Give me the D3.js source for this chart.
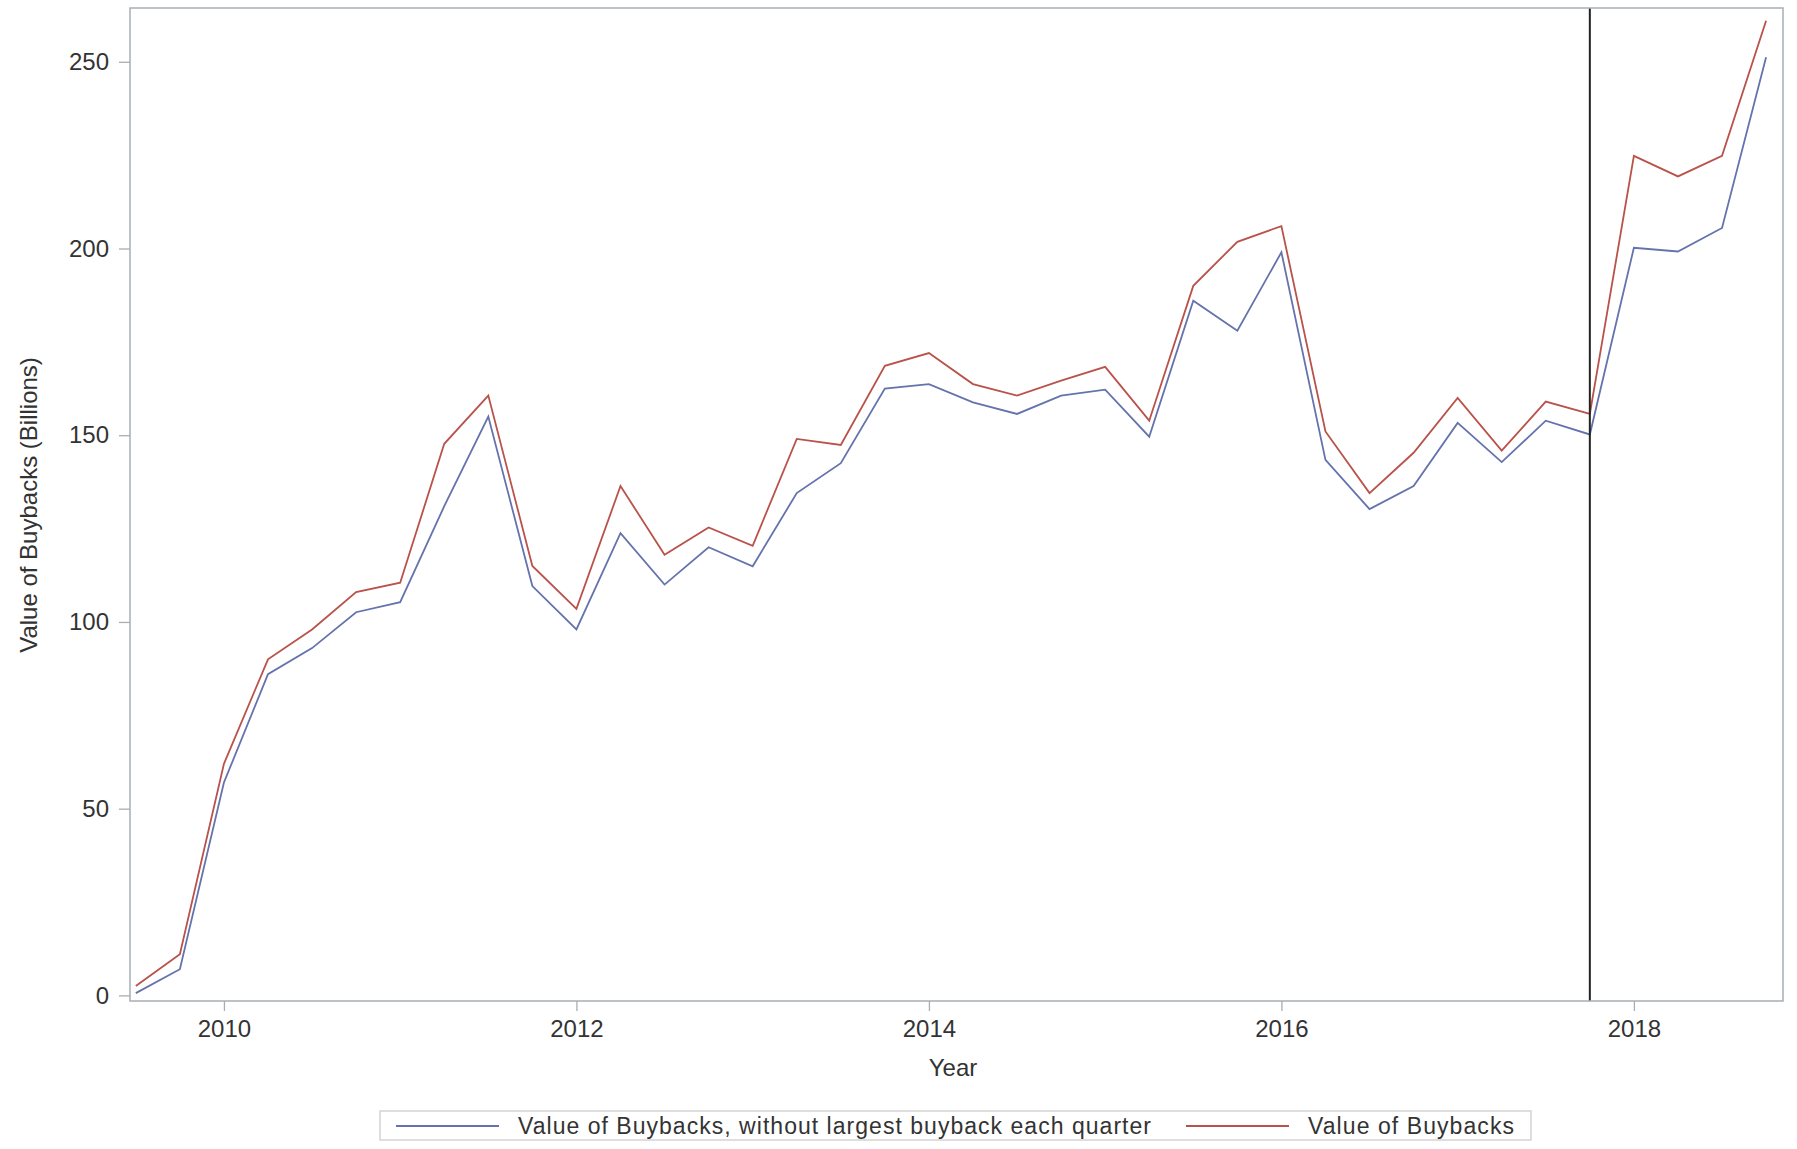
<!DOCTYPE html>
<html>
<head>
<meta charset="utf-8">
<script src="https://cdn.jsdelivr.net/npm/d3@7"></script>
<style>
  body { margin: 0; background: #fff; }
  text { font-family: "Liberation Sans", Arial, sans-serif; fill: #333; }
</style>
</head>
<body>
<div id="chart"></div>
<script>
// quarterly observations, as decimal years
const quarters = [
  2009.5, 2009.75, 2010, 2010.25, 2010.5, 2010.75, 2011, 2011.25, 2011.5, 2011.75,
  2012, 2012.25, 2012.5, 2012.75, 2013, 2013.25, 2013.5, 2013.75, 2014, 2014.25,
  2014.5, 2014.75, 2015, 2015.25, 2015.5, 2015.75, 2016, 2016.25, 2016.5, 2016.75,
  2017, 2017.25, 2017.5, 2017.75, 2018, 2018.25, 2018.5, 2018.75
];

const withoutLargest = [
  0.6, 7, 57, 86, 93, 102.6, 105.3, 131, 155, 109.6,
  98, 123.8, 110, 120, 114.9, 134.5, 142.5, 162.5, 163.7, 158.8,
  155.7, 160.6, 162.2, 149.6, 186, 178, 199, 143.4, 130.2, 136.4,
  153.3, 142.8, 153.9, 150.2, 200.2, 199.2, 205.5, 251.2
];

const allBuybacks = [
  2.5, 11, 62, 90, 98, 108, 110.5, 147.7, 160.6, 115,
  103.5, 136.4, 118, 125.3, 120.4, 149, 147.4, 168.6, 172, 163.7,
  160.6, 164.6, 168.3, 153.9, 190, 201.8, 206, 151, 134.5, 145.3,
  160, 145.9, 159, 155.7, 224.8, 219.3, 224.8, 261
];

const yearTicks = [2010, 2012, 2014, 2016, 2018];
const valueTicks = [0, 50, 100, 150, 200, 250];
const markerYear = 2017.75;

const seriesNames = [
  "Value of Buybacks, without largest buyback each quarter",
  "Value of Buybacks"
];
const seriesColors = ["#6573ad", "#b9524a"];

const width = 1797, height = 1149;
const margin = { top: 8, right: 14, bottom: 148, left: 130 };
const innerW = width - margin.left - margin.right;
const innerH = height - margin.top - margin.bottom;

const svg = d3.select("#chart").append("svg")
  .attr("width", width)
  .attr("height", height);

const x = d3.scaleLinear().domain([2009.467, 2018.846]).range([0, innerW]);
const y = d3.scaleLinear().domain([-1.5, 264.4]).range([innerH, 0]);

const g = svg.append("g").attr("transform", `translate(${margin.left},${margin.top})`);

// axes
const xAxis = g.append("g")
  .attr("transform", `translate(0,${innerH})`)
  .call(d3.axisBottom(x).tickValues(yearTicks).tickFormat(d3.format("d")).tickSize(10).tickPadding(9));
const yAxis = g.append("g")
  .call(d3.axisLeft(y).tickValues(valueTicks).tickSize(11).tickPadding(10));

[xAxis, yAxis].forEach(a => {
  a.select(".domain").remove();
  a.selectAll(".tick line").attr("stroke", "#a7aeb4").attr("stroke-width", 1.3);
  a.selectAll(".tick text").attr("font-size", 24).attr("fill", "#333")
    .attr("font-family", "Liberation Sans, Arial, sans-serif");
});

// series
const series = [withoutLargest, allBuybacks];
const line = d3.line()
  .x((d, i) => x(quarters[i]))
  .y(d => y(d));

series.forEach((vals, k) => {
  g.append("path")
    .datum(vals)
    .attr("fill", "none")
    .attr("stroke", seriesColors[k])
    .attr("stroke-width", 1.8)
    .attr("stroke-linejoin", "miter")
    .attr("d", line);
});

// reference line
g.append("line")
  .attr("x1", x(markerYear)).attr("x2", x(markerYear))
  .attr("y1", 0).attr("y2", innerH)
  .attr("stroke", "#222")
  .attr("stroke-width", 2);

// frame
g.append("rect")
  .attr("width", innerW).attr("height", innerH)
  .attr("fill", "none")
  .attr("stroke", "#a7aeb4")
  .attr("stroke-width", 1.5);

// axis titles
svg.append("text")
  .attr("x", 953)
  .attr("y", 1076)
  .attr("text-anchor", "middle")
  .attr("font-size", 24)
  .text("Year");

svg.append("text")
  .attr("transform", `translate(37,505) rotate(-90)`)
  .attr("text-anchor", "middle")
  .attr("font-size", 24)
  .text("Value of Buybacks (Billions)");

// legend
const legend = svg.append("g").attr("transform", "translate(380,1111)");
legend.append("rect")
  .attr("width", 1151).attr("height", 29)
  .attr("fill", "#fff")
  .attr("stroke", "#d4d4d4")
  .attr("stroke-width", 1.5);

const legendX = [16, 806];
const legendTextLen = [633, 206];
seriesNames.forEach((name, k) => {
  legend.append("line")
    .attr("x1", legendX[k]).attr("x2", legendX[k] + 103)
    .attr("y1", 15).attr("y2", 15)
    .attr("stroke", seriesColors[k])
    .attr("stroke-width", 2);
  legend.append("text")
    .attr("x", legendX[k] + 122)
    .attr("y", 23)
    .attr("font-size", 23)
    .attr("textLength", legendTextLen[k])
    .attr("lengthAdjust", "spacing")
    .text(name);
});
</script>
</body>
</html>
